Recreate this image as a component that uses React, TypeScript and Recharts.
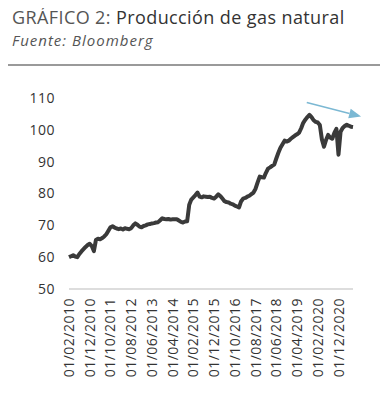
import React from "react";
import { LineChart, Line, XAxis, YAxis, ReferenceLine } from "recharts";

// monthly production index, 02/2010 -> 07/2021
const START_YEAR = 2010;
const START_MONTH = 2;

const production = [
  60, 60.3, 60.6, 60.2, 60, 61, 61.8, 62.5, 63.2, 63.8,
  64.2, 63.5, 61.9, 65.4, 65.8, 65.6, 66, 66.5, 67.2, 68.3,
  69.4, 69.7, 69.3, 69, 68.8, 69, 68.7, 69.1, 68.9, 68.8,
  69.1, 70, 70.6, 70.2, 69.6, 69.4, 69.8, 70, 70.3, 70.4,
  70.6, 70.7, 70.9, 71, 71.6, 72.2, 72, 71.9, 72, 71.8,
  71.9, 71.9, 71.9, 71.5, 71.1, 70.9, 71.2, 71.3, 76.5, 78.1,
  78.8, 79.5, 80.3, 79, 78.8, 79.1, 79, 78.9, 79, 78.6,
  78.4, 79, 79.7, 79.2, 78.4, 77.6, 77.3, 77.2, 76.8, 76.6,
  76.2, 75.9, 75.6, 77.5, 78.4, 78.6, 79, 79.3, 79.8, 80.3,
  81.5, 83.5, 85.3, 85.1, 85, 86.5, 87.8, 88.2, 88.7, 89.1,
  91, 92.8, 94.4, 95.5, 96.6, 96.3, 96.6, 97.2, 97.7, 98.2,
  98.6, 99.1, 100.5, 102.2, 103.2, 104, 104.7, 104, 103, 102.5,
  102.3, 101.5, 97, 94.7, 96.8, 98.4, 97.6, 97.2, 99, 100.3,
  92.2, 99.4, 100.6, 101.2, 101.6, 101.3, 101, 100.9,
];

const yTicks = [50, 60, 70, 80, 90, 100, 110];
const xTicks = [0, 10, 20, 30, 40, 50, 60, 70, 80, 90, 100, 110, 120, 130];

// trend arrow (month index, value)
const arrowFrom = { x: 114.7, y: 108.6 };
const arrowTo = { x: 140.9, y: 104.2 };

const monthLabel = (i: number) => {
  const m0 = START_MONTH - 1 + i;
  const y = START_YEAR + Math.floor(m0 / 12);
  const m = (m0 % 12) + 1;
  return `01/${String(m).padStart(2, "0")}/${y}`;
};

const data = production.map((v, i) => ({ i, date: monthLabel(i), value: v }));

const FONT = "'Open Sans', sans-serif";

const DateTick = (props: any) => {
  const { x, y, payload } = props;
  return (
    <text
      x={x}
      y={y}
      transform={`rotate(-90, ${x}, ${y})`}
      textAnchor="end"
      dy="0.36em"
      fill="#333"
      fontSize={14}
      letterSpacing={0.5}
      fontFamily={FONT}
    >
      {monthLabel(payload.value)}
    </text>
  );
};

const Arrow = (props: any) => {
  const { x1, y1, x2, y2 } = props;
  if (x1 == null) return null;
  const ang = Math.atan2(y2 - y1, x2 - x1);
  const len = 12;
  const w = 5;
  const bx = x2 - len * Math.cos(ang);
  const by = y2 - len * Math.sin(ang);
  const px = -Math.sin(ang) * w;
  const py = Math.cos(ang) * w;
  return (
    <g>
      <line x1={x1} y1={y1} x2={bx} y2={by} stroke="#7bb8d3" strokeWidth={1.4} />
      <polygon points={`${x2},${y2} ${bx + px},${by + py} ${bx - px},${by - py}`} fill="#7bb8d3" />
    </g>
  );
};

export default function App() {
  return (
    <div style={{ position: "relative", width: 388, height: 409, margin: -8, background: "#fff", fontFamily: FONT }}>
      <div style={{ position: "absolute", left: 12, top: 5, fontSize: 18, letterSpacing: 0.4, color: "#555", whiteSpace: "nowrap" }}>
        GRÁFICO 2: <span style={{ color: "#333", fontWeight: 500 }}>Producción de gas natural</span>
      </div>
      <div style={{ position: "absolute", left: 12, top: 30, fontSize: 15, letterSpacing: 1, fontStyle: "italic", color: "#555" }}>
        Fuente: Bloomberg
      </div>
      <div style={{ position: "absolute", left: 8, right: 0, top: 64, height: 2, background: "#9a9a9a" }} />
      <div style={{ position: "absolute", left: 0, top: 0 }}>
        <LineChart width={388} height={409} data={data} margin={{ top: 98, right: 35, bottom: 10, left: 0 }}>
          <XAxis
            dataKey="i"
            type="number"
            domain={[0, production.length - 1]}
            ticks={xTicks}
            interval={0}
            tick={<DateTick />}
            tickLine={false}
            tickSize={0}
            tickMargin={9}
            height={110}
            axisLine={{ stroke: "#dddddd", strokeWidth: 2 }}
          />
          <YAxis
            domain={[50, 110]}
            ticks={yTicks}
            width={69}
            axisLine={false}
            tickLine={false}
            tickSize={0}
            tickMargin={14}
            tick={{ fill: "#333", fontSize: 14, fontFamily: FONT, letterSpacing: 0.5 }}
          />
          <Line
            type="linear"
            dataKey="value"
            stroke="#3a3a3a"
            strokeWidth={4}
            strokeLinejoin="round"
            dot={false}
            isAnimationActive={false}
          />
          <ReferenceLine segment={[arrowFrom, arrowTo]} ifOverflow="visible" shape={<Arrow />} />
        </LineChart>
      </div>
    </div>
  );
}
